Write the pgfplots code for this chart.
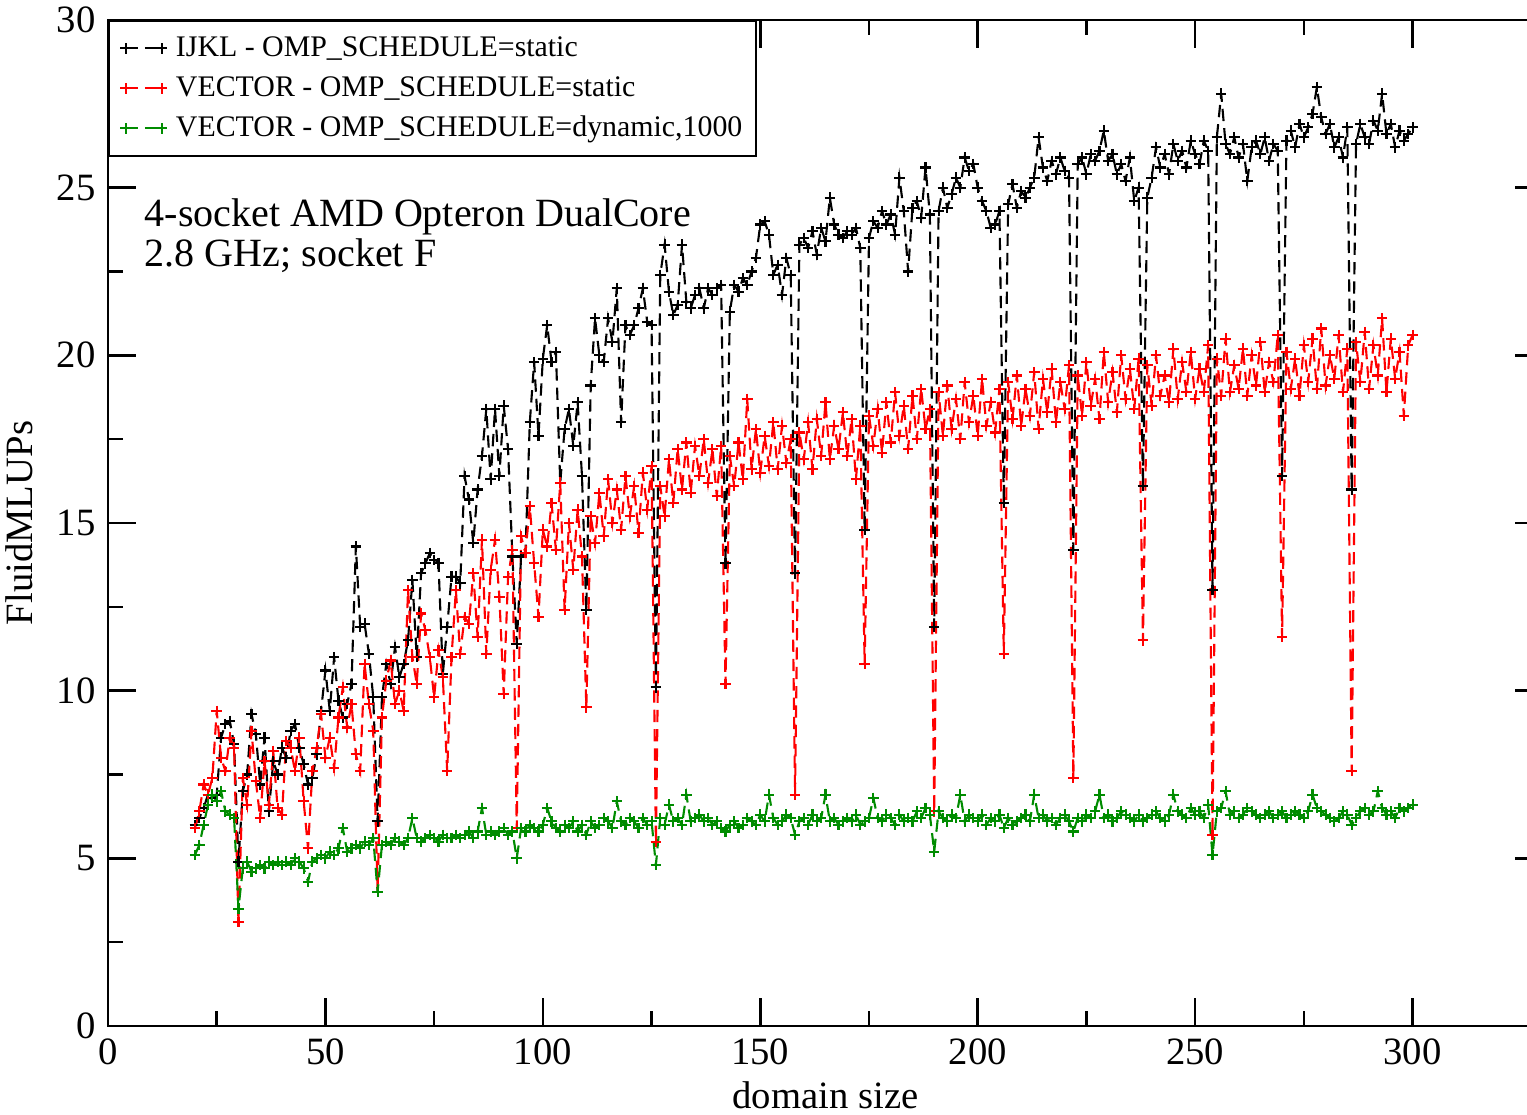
\documentclass[border=0pt]{standalone}
\usepackage{fontspec}
\setmainfont{Liberation Serif}
\usepackage{pgfplots}
\usepackage{pgfplotstable}
\pgfplotsset{compat=1.18}
\definecolor{ggreen}{RGB}{0,140,0}
\pgfplotstableread{
x b r g
20 6.0 5.9 5.1
21 6.2 6.4 5.4
22 6.5 7.2 6.0
23 6.9 6.9 6.6
24 6.8 7.4 6.9
25 6.9 9.4 6.7
26 8.6 8.0 7.0
27 9.0 7.6 6.4
28 9.1 8.6 6.3
29 8.4 8.3 6.2
30 4.9 3.1 3.5
31 7.0 7.4 4.7
32 7.5 6.6 4.9
33 9.3 8.8 4.6
34 8.7 7.3 4.7
35 7.2 6.2 4.8
36 8.6 7.9 4.7
37 6.4 6.6 4.9
38 7.9 8.2 4.8
39 7.5 6.5 4.9
40 8.3 6.3 4.8
41 8.0 8.5 4.9
42 8.8 8.3 4.8
43 9.0 7.6 5.0
44 8.3 8.6 4.9
45 7.8 6.7 4.7
46 7.2 5.3 4.3
47 7.4 7.6 4.9
48 8.1 8.3 5.0
49 9.4 9.3 5.1
50 10.6 8.0 5.0
51 9.4 8.6 5.2
52 11.0 7.7 5.1
53 9.7 9.2 5.3
54 9.2 10.1 5.9
55 9.6 8.9 5.2
56 10.2 9.6 5.3
57 14.3 8.1 5.4
58 11.9 7.6 5.3
59 12.0 10.8 5.5
60 11.1 9.6 5.4
61 9.8 8.8 5.6
62 6.1 4.0 4.0
63 9.8 9.2 5.4
64 10.8 10.3 5.5
65 10.2 10.9 5.4
66 11.3 9.6 5.6
67 10.4 10.0 5.5
68 10.8 9.4 5.4
69 11.5 13.0 5.6
70 13.3 11.0 6.2
71 11.0 10.2 5.6
72 13.5 12.3 5.5
73 13.8 11.8 5.6
74 14.1 11.0 5.7
75 13.9 9.8 5.6
76 13.8 11.2 5.5
77 10.5 10.4 5.7
78 11.9 7.6 5.6
79 13.4 11.0 5.6
80 13.4 13.0 5.7
81 13.2 11.1 5.6
82 16.4 12.2 5.7
83 15.7 12.0 5.8
84 14.4 13.5 5.6
85 16.0 11.6 5.8
86 17.0 14.5 6.5
87 18.4 11.1 5.7
88 16.3 13.6 5.8
89 18.4 14.5 5.7
90 16.4 12.8 5.8
91 18.5 9.9 5.9
92 17.2 13.4 5.7
93 14.0 14.2 5.8
94 11.4 5.9 5.0
95 14.0 14.6 5.9
96 14.1 14.1 5.8
97 18.0 15.5 6.0
98 19.8 13.8 5.9
99 17.6 12.2 5.8
100 19.9 14.8 6.0
101 20.9 14.3 6.5
102 19.8 15.6 6.1
103 20.1 14.2 5.9
104 16.2 16.2 5.8
105 17.8 12.4 6.0
106 18.4 15.0 5.9
107 17.3 13.6 6.1
108 18.6 15.4 5.8
109 16.4 14.0 6.0
110 12.4 9.5 5.7
111 19.1 15.2 6.1
112 21.1 14.4 5.9
113 20.0 15.9 6.0
114 19.8 14.6 6.2
115 21.1 16.3 6.1
116 20.4 15.0 5.9
117 22.0 16.0 6.7
118 18.0 14.8 6.1
119 20.9 16.4 6.0
120 20.6 15.2 6.2
121 20.9 16.1 6.1
122 21.4 14.7 5.9
123 22.0 16.5 6.2
124 21.0 15.4 6.0
125 20.9 16.7 6.1
126 10.1 5.5 4.8
127 22.4 16.1 6.2
128 23.3 15.2 6.0
129 21.9 16.9 6.6
130 21.2 15.6 6.1
131 21.5 17.2 6.2
132 23.3 16.0 6.0
133 21.6 17.4 6.9
134 21.4 15.9 6.1
135 21.8 17.3 6.2
136 22.0 16.4 6.3
137 21.4 17.5 6.1
138 22.0 16.2 6.2
139 21.8 17.2 6.0
140 22.0 15.8 6.1
141 22.1 17.3 5.9
142 13.8 10.2 5.8
143 21.3 17.0 6.0
144 22.1 16.1 6.1
145 21.9 17.4 5.9
146 22.3 16.3 6.0
147 22.1 18.7 6.2
148 22.5 16.6 6.1
149 22.9 17.8 6.0
150 23.9 16.5 6.3
151 24.0 17.6 6.1
152 23.6 16.7 6.9
153 22.4 18.0 6.2
154 22.7 16.6 6.0
155 21.8 17.9 6.1
156 22.9 16.8 6.3
157 22.4 17.5 6.2
158 13.5 6.9 5.7
159 23.3 17.7 6.1
160 23.5 16.9 6.2
161 23.2 18.0 6.0
162 23.7 16.6 6.3
163 23.0 18.1 6.1
164 23.8 17.0 6.2
165 23.4 18.6 6.9
166 24.7 16.9 6.1
167 23.9 17.9 6.2
168 23.6 17.2 6.0
169 23.5 18.3 6.1
170 23.7 17.0 6.2
171 23.6 18.1 6.1
172 23.8 16.3 6.3
173 23.2 17.9 6.0
174 14.8 10.8 6.1
175 23.5 18.2 6.2
176 24.0 17.3 6.8
177 23.8 18.4 6.2
178 24.3 17.1 6.1
179 23.9 18.6 6.3
180 24.2 17.4 6.2
181 23.6 18.9 6.0
182 25.3 17.6 6.3
183 24.3 18.5 6.1
184 22.5 17.2 6.2
185 24.4 18.8 6.1
186 24.6 17.5 6.4
187 24.1 19.0 6.2
188 25.6 17.8 6.5
189 24.2 18.4 6.3
190 11.9 6.4 5.2
191 24.3 18.9 6.4
192 25.0 17.6 6.2
193 24.4 19.1 6.1
194 24.8 17.8 6.3
195 25.3 18.7 6.2
196 25.0 17.5 6.9
197 25.9 19.2 6.1
198 25.5 18.0 6.3
199 25.7 18.8 6.2
200 25.0 17.6 6.1
201 24.6 19.3 6.3
202 24.3 17.9 6.0
203 23.8 18.6 6.2
204 23.9 17.7 6.1
205 24.3 19.0 6.3
206 15.6 11.1 5.9
207 24.5 19.2 6.2
208 25.1 18.1 6.0
209 24.4 19.4 6.1
210 24.9 17.9 6.2
211 24.7 19.0 6.3
212 25.0 18.2 6.1
213 25.3 19.5 6.9
214 26.5 17.8 6.2
215 25.6 19.3 6.3
216 25.2 18.3 6.1
217 25.8 19.6 6.2
218 25.4 18.0 6.0
219 25.9 19.2 6.2
220 25.5 18.4 6.3
221 25.3 19.7 6.1
222 14.2 7.4 5.8
223 25.7 19.4 6.2
224 25.9 18.2 6.1
225 25.4 19.8 6.3
226 26.0 18.5 6.2
227 25.8 19.3 6.4
228 26.1 18.1 6.9
229 26.7 20.1 6.2
230 25.8 18.6 6.3
231 26.0 19.5 6.1
232 25.4 18.3 6.2
233 25.7 20.0 6.4
234 25.2 18.7 6.3
235 25.9 19.6 6.2
236 24.6 18.4 6.1
237 25.0 19.9 6.3
238 16.1 11.5 6.1
239 24.7 19.7 6.2
240 25.3 18.5 6.3
241 26.2 20.0 6.4
242 25.6 18.8 6.2
243 26.0 19.4 6.1
244 25.4 18.6 6.3
245 26.3 20.2 6.9
246 25.8 18.7 6.4
247 26.1 19.8 6.3
248 25.6 18.9 6.2
249 26.4 20.1 6.5
250 26.0 18.7 6.3
251 25.7 19.6 6.4
252 26.4 18.9 6.2
253 26.1 20.3 6.6
254 13.0 5.7 5.1
255 26.5 19.9 6.4
256 27.8 18.8 6.5
257 26.3 20.5 7.0
258 26.0 18.9 6.3
259 26.5 19.7 6.4
260 25.9 19.0 6.2
261 26.3 20.2 6.3
262 25.2 18.8 6.5
263 26.2 20.0 6.4
264 26.4 19.1 6.3
265 26.0 20.4 6.2
266 26.5 18.9 6.3
267 25.8 19.8 6.4
268 26.3 19.2 6.2
269 26.1 20.6 6.3
270 16.4 11.6 6.4
271 26.4 20.1 6.2
272 26.7 19.0 6.3
273 26.2 19.9 6.4
274 26.9 18.8 6.3
275 26.5 20.3 6.2
276 26.8 19.2 6.4
277 27.2 20.5 6.9
278 28.0 19.0 6.5
279 27.1 20.8 6.4
280 26.6 19.1 6.3
281 26.9 20.0 6.2
282 26.2 19.3 6.1
283 26.5 20.6 6.2
284 25.9 18.9 6.4
285 26.8 20.2 6.3
286 16.0 7.6 6.0
287 26.3 20.4 6.2
288 26.9 19.2 6.4
289 26.5 20.7 6.5
290 26.3 19.0 6.3
291 27.0 20.3 6.4
292 26.7 19.4 7.0
293 27.8 21.1 6.5
294 26.6 18.9 6.3
295 26.9 20.5 6.4
296 26.2 19.3 6.2
297 26.7 20.1 6.5
298 26.4 18.2 6.4
299 26.6 20.3 6.5
300 26.8 20.6 6.6
}\datatable
\begin{document}
\begin{tikzpicture}
\begin{axis}[
  name=ax,
  width=14.35cm, height=10.06cm, scale only axis,
  xmin=0, xmax=330, ymin=0, ymax=30,
  xtick={0,50,...,300}, ytick={0,5,...,30},
  minor x tick num=1, minor y tick num=1,
  tick align=inside,
  major tick length=0.28cm, minor tick length=0.15cm,
  every tick/.style={black, line width=0.7pt},
  axis line style={line width=0.8pt},
  ticklabel style={font=\fontsize{11}{13}\selectfont},
  /pgf/number format/assume math mode=true,
  xlabel={domain size}, ylabel={FluidMLUPs},
  label style={font=\fontsize{11}{13}\selectfont},
  xlabel style={yshift=2pt},
  legend style={at={(0,1)}, anchor=north west, draw=black, line width=0.6pt,
    font=\fontsize{8.5}{10}\selectfont, inner xsep=3.2pt, inner ysep=3pt, row sep=1.9pt,
    nodes={inner sep=0.6pt, text height=6.5pt, text depth=1.8pt}, cells={anchor=west},
    /tikz/every odd column/.append style={column sep=2pt}},
  legend image code/.code={\draw[mark repeat=1,#1] plot coordinates {(0cm,0cm) (0.36cm,0cm)};},
]
\addplot[black, line width=0.6pt, dash pattern=on 3.5pt off 2pt, mark=+, mark size=1.5pt, mark options={solid}] table[x=x,y=b]{\datatable};
\addlegendentry{IJKL - OMP\_SCHEDULE=static}
\addplot[red, line width=0.6pt, dash pattern=on 3.5pt off 2pt, mark=+, mark size=1.5pt, mark options={solid}] table[x=x,y=r]{\datatable};
\addlegendentry{VECTOR - OMP\_SCHEDULE=static}
\addplot[ggreen, line width=0.6pt, dash pattern=on 3.5pt off 2pt, mark=+, mark size=1.5pt, mark options={solid}] table[x=x,y=g]{\datatable};
\addlegendentry{VECTOR - OMP\_SCHEDULE=dynamic,1000}
\node[anchor=north west, inner sep=0pt, align=left, font=\fontsize{11.4}{11.4}\selectfont] at (axis cs:8.3,24.68) {4-socket AMD Opteron DualCore\\2.8 GHz; socket F};
\end{axis}
\pgfresetboundingbox
\path (ax.south west) ++(-1.08cm,-0.89cm) rectangle ++(15.27cm,11.15cm);
\end{tikzpicture}
\end{document}
